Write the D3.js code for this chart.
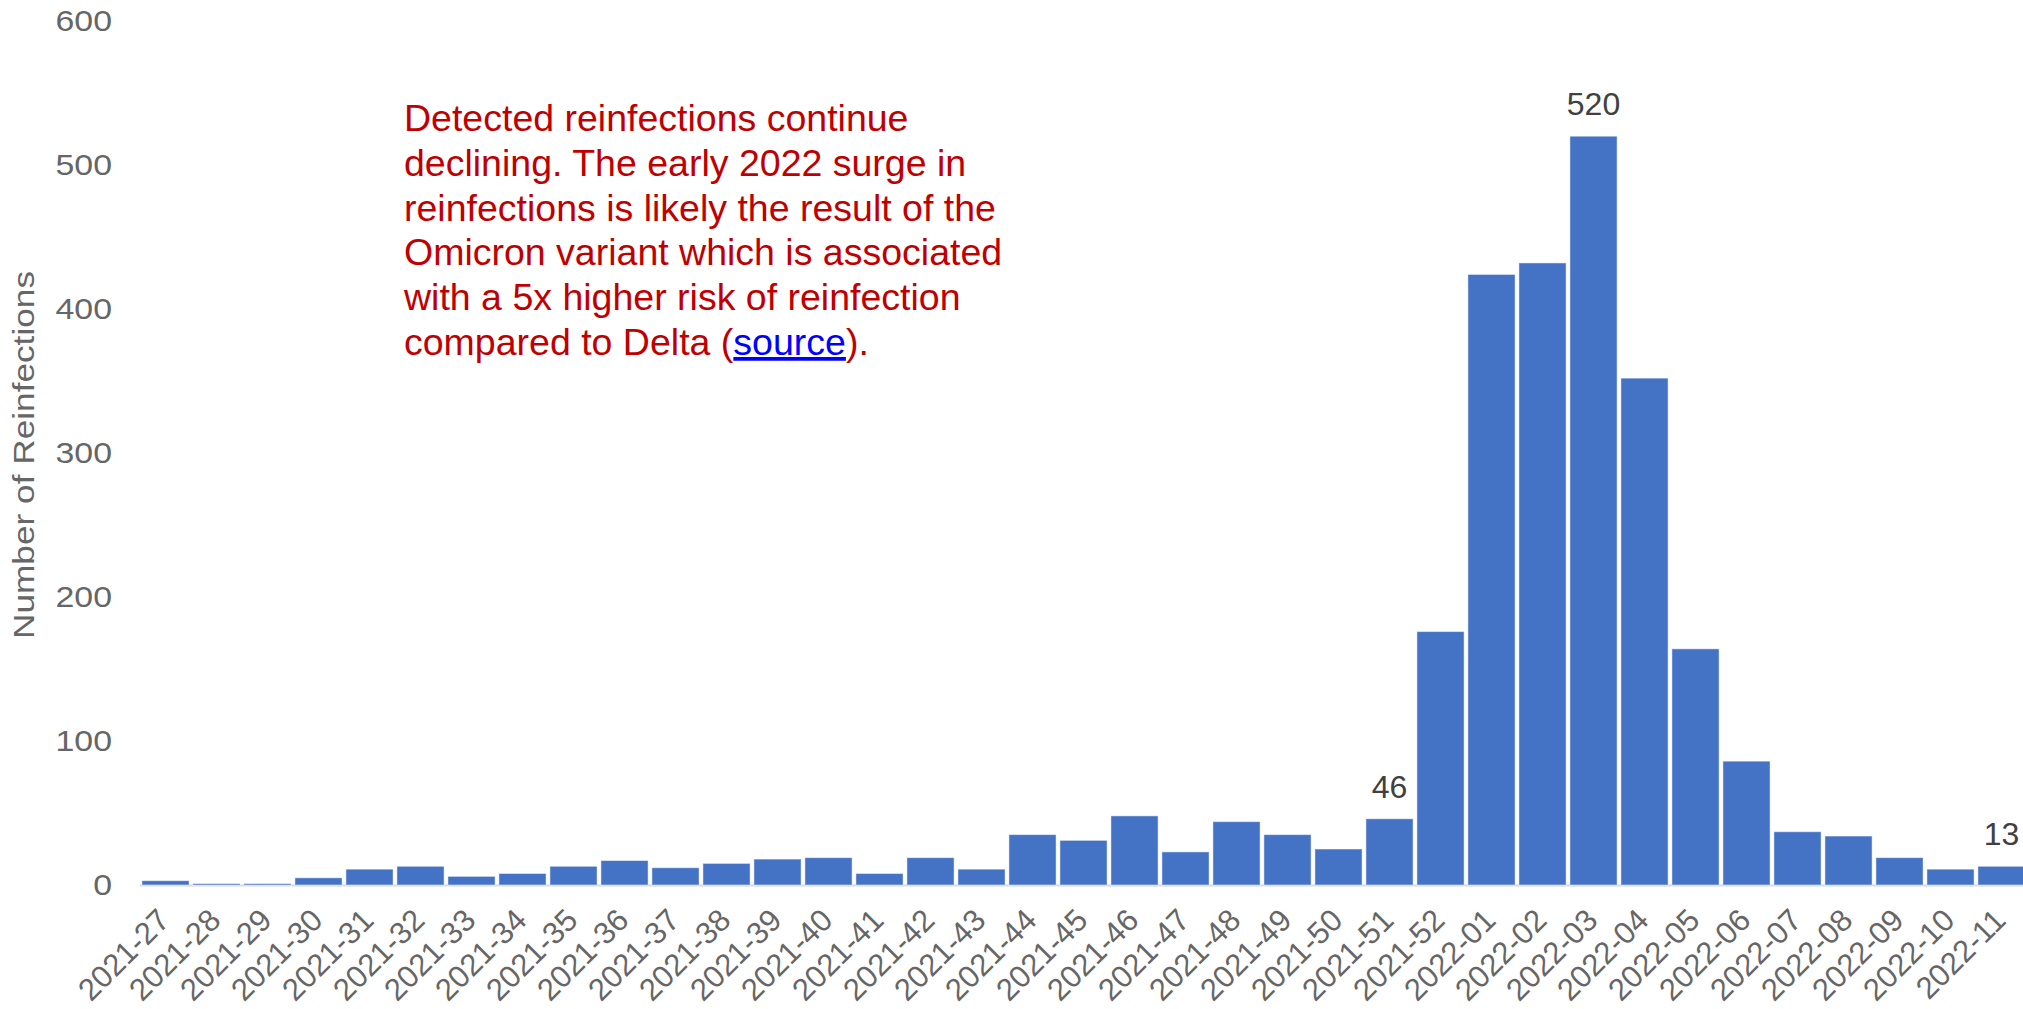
<!DOCTYPE html>
<html>
<head>
<meta charset="utf-8">
<script src="https://cdn.jsdelivr.net/npm/d3@7"></script>
<style>
  body { margin: 0; background: #fff; }
  text { font-family: "Liberation Sans", Arial, sans-serif; }
</style>
</head>
<body>
<div id="chart"></div>
<script>
var svgWidth = 2023;
var svgHeight = 1009;

// weekly reinfection counts
var weeks = ["2021-27", "2021-28", "2021-29", "2021-30", "2021-31", "2021-32", "2021-33",
  "2021-34", "2021-35", "2021-36", "2021-37", "2021-38", "2021-39", "2021-40", "2021-41",
  "2021-42", "2021-43", "2021-44", "2021-45", "2021-46", "2021-47", "2021-48", "2021-49",
  "2021-50", "2021-51", "2021-52", "2022-01", "2022-02", "2022-03", "2022-04", "2022-05",
  "2022-06", "2022-07", "2022-08", "2022-09", "2022-10", "2022-11"];
var reinfections = [3, 1, 1, 5, 11, 13, 6, 8, 13, 17, 12, 15, 18, 19, 8, 19, 11, 35, 31, 48,
  23, 44, 35, 25, 46, 176, 424, 432, 520, 352, 164, 86, 37, 34, 19, 11, 13];
var labelledWeeks = ["2021-51", "2022-03", "2022-11"];
var yTicks = [0, 100, 200, 300, 400, 500, 600];

var noteLines = [
  "Detected reinfections continue",
  "declining. The early 2022 surge in",
  "reinfections is likely the result of the",
  "Omicron variant which is associated",
  "with a 5x higher risk of reinfection"
];
var noteLast = ["compared to Delta (", "source", ")."];

var data = weeks.map(function(w, i) {
  return { week: w, value: reinfections[i] };
});

var svg = d3.select("#chart")
  .append("svg")
  .attr("width", svgWidth)
  .attr("height", svgHeight);

svg.append("rect")
  .attr("width", svgWidth)
  .attr("height", svgHeight)
  .attr("fill", "#fff");

// scales
var xScale = d3.scaleBand()
  .domain(weeks)
  .range([140, 2027])
  .paddingInner(0.075)
  .paddingOuter(0.0375);

var yScale = d3.scaleLinear()
  .domain([0, 600])
  .range([885, 21]);

// baseline
svg.append("line")
  .attr("x1", 140)
  .attr("x2", svgWidth)
  .attr("y1", yScale(0) + 0.5)
  .attr("y2", yScale(0) + 0.5)
  .attr("stroke", "#d9d9d9")
  .attr("stroke-width", 2);

// bars
svg.selectAll(".bar")
  .data(data)
  .enter()
  .append("rect")
  .attr("class", "bar")
  .attr("x", d => xScale(d.week))
  .attr("y", d => yScale(d.value))
  .attr("width", xScale.bandwidth())
  .attr("height", d => yScale(0) - yScale(d.value))
  .attr("fill", "#4472c4")
  .attr("stroke", "#ffffff")
  .attr("stroke-opacity", 0.5)
  .attr("stroke-width", 1);

// value labels on a few bars
svg.selectAll(".valueLabel")
  .data(data.filter(d => labelledWeeks.indexOf(d.week) >= 0))
  .enter()
  .append("text")
  .attr("class", "valueLabel")
  .attr("x", d => xScale(d.week) + xScale.bandwidth() / 2)
  .attr("y", d => yScale(d.value) - 21)
  .attr("text-anchor", "middle")
  .attr("font-size", 32)
  .attr("fill", "#404040")
  .text(d => d.value);

// y axis
var yAxis = d3.axisLeft(yScale)
  .tickValues(yTicks)
  .tickSize(0)
  .tickPadding(0);

var yAxisGroup = svg.append("g")
  .attr("transform", "translate(112,0)")
  .call(yAxis);
yAxisGroup.select(".domain").remove();
yAxisGroup.selectAll("text")
  .attr("font-family", "Liberation Sans, Arial, sans-serif")
  .attr("font-size", 30)
  .attr("transform", "scale(1.13,1)")
  .attr("fill", "#666666");

// x axis
var xAxis = d3.axisBottom(xScale).tickSize(0);

var xAxisGroup = svg.append("g")
  .attr("transform", `translate(0, ${yScale(0)})`)
  .call(xAxis);
xAxisGroup.select(".domain").remove();
xAxisGroup.selectAll("text")
  .attr("x", 0)
  .attr("y", 0)
  .attr("dy", 0)
  .attr("transform", "translate(6,37) rotate(-45)")
  .attr("text-anchor", "end")
  .attr("font-family", "Liberation Sans, Arial, sans-serif")
  .attr("font-size", 31)
  .attr("fill", "#666666");

// y axis title
svg.append("text")
  .attr("transform", "translate(34,455) rotate(-90)")
  .attr("text-anchor", "middle")
  .attr("font-size", 30)
  .attr("textLength", 368)
  .attr("lengthAdjust", "spacingAndGlyphs")
  .attr("fill", "#666666")
  .text("Number of Reinfections");

// annotation
var note = svg.append("text")
  .attr("x", 404)
  .attr("y", 131)
  .attr("font-size", 37.5)
  .attr("fill", "#c00000");

noteLines.forEach(function(line, i) {
  note.append("tspan")
    .attr("x", 404)
    .attr("y", 131 + i * 44.8)
    .text(line);
});

var lastLine = note.append("tspan")
  .attr("x", 404)
  .attr("y", 131 + noteLines.length * 44.8);
lastLine.append("tspan").text(noteLast[0]);
lastLine.append("tspan")
  .attr("fill", "#0000ff")
  .attr("text-decoration", "underline")
  .text(noteLast[1]);
lastLine.append("tspan").text(noteLast[2]);
</script>
</body>
</html>
